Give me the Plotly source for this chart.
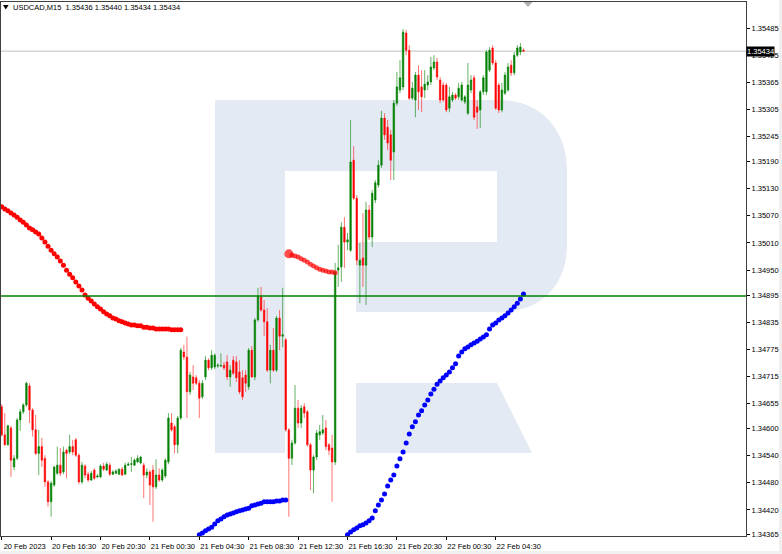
import plotly.graph_objects as go

# ---------------- data ----------------
symbol = "USDCAD,M15"
time_labels = ["20 Feb 2023", "20 Feb 16:30", "20 Feb 20:30", "21 Feb 00:30", "21 Feb 04:30",
               "21 Feb 08:30", "21 Feb 12:30", "21 Feb 16:30", "21 Feb 20:30", "22 Feb 00:30",
               "22 Feb 04:30"]
bars_per_label = 16
price_ticks = [1.35485, 1.35425, 1.35365, 1.35305, 1.35245, 1.35190, 1.35130, 1.35070, 1.35010,
               1.34950, 1.34895, 1.34835, 1.34775, 1.34715, 1.34655, 1.34600, 1.34540, 1.34480,
               1.34420, 1.34365]

opens = [
    1.34648, 1.34586, 1.34564, 1.34601, 1.34515, 1.34534, 1.34619, 1.34637, 1.34652, 1.34694,
    1.34641, 1.34597, 1.34545, 1.34560, 1.34534, 1.34482, 1.34438, 1.34475, 1.34501, 1.34519,
    1.34504, 1.34552, 1.34548, 1.34560, 1.34575, 1.34541, 1.34482, 1.34517, 1.34499, 1.34486,
    1.34508, 1.34493, 1.34493, 1.34517, 1.34508, 1.34519, 1.34499, 1.34501, 1.34499, 1.34510,
    1.34499, 1.34519, 1.34521, 1.34519, 1.34526, 1.34524, 1.34519, 1.34497, 1.34504, 1.34508,
    1.34471, 1.34497, 1.34486, 1.34495, 1.34526, 1.34612, 1.34604, 1.34564, 1.34623, 1.34769,
    1.34758, 1.34681, 1.34714, 1.34712, 1.34700, 1.34670, 1.34714, 1.34751, 1.34734, 1.34736,
    1.34738, 1.34738, 1.34740, 1.34747, 1.34714, 1.34751, 1.34747, 1.34725, 1.34712, 1.34718,
    1.34692, 1.34773, 1.34714, 1.34840, 1.34891, 1.34862, 1.34836, 1.34729, 1.34773, 1.34729,
    1.34844, 1.34804, 1.34796, 1.34597, 1.34534, 1.34568, 1.34645, 1.34612, 1.34648, 1.34637,
    1.34564, 1.34508, 1.34537, 1.34586, 1.34590, 1.34601, 1.34564, 1.34557, 1.34526, 1.34950,
    1.34957, 1.35045, 1.35012, 1.34994, 1.35193, 1.35109, 1.34961, 1.34977, 1.34961, 1.35083,
    1.35023, 1.35105, 1.35138, 1.35182, 1.35286, 1.35266, 1.35249, 1.35211, 1.35319, 1.35348,
    1.35355, 1.35474, 1.35436, 1.35330, 1.35326, 1.35381, 1.35355, 1.35348, 1.35359, 1.35366,
    1.35397, 1.35410, 1.35370, 1.35359, 1.35359, 1.35308, 1.35326, 1.35337, 1.35333, 1.35326,
    1.35322, 1.35297, 1.35348, 1.35375, 1.35311, 1.35304, 1.35344, 1.35344, 1.35392, 1.35441,
    1.35408, 1.35359, 1.35304, 1.35341, 1.35348, 1.35403, 1.35386, 1.35425, 1.35432, 1.35436,
]
highs = [
    1.34654, 1.34634, 1.34608, 1.34606, 1.34541, 1.34623, 1.34643, 1.34656, 1.34703, 1.34700,
    1.34645, 1.34630, 1.34597, 1.34579, 1.34541, 1.34486, 1.34484, 1.34517, 1.34560, 1.34557,
    1.34560, 1.34555, 1.34586, 1.34575, 1.34579, 1.34545, 1.34526, 1.34521, 1.34504, 1.34506,
    1.34512, 1.34499, 1.34521, 1.34524, 1.34526, 1.34524, 1.34508, 1.34510, 1.34512, 1.34515,
    1.34524, 1.34526, 1.34537, 1.34534, 1.34541, 1.34539, 1.34524, 1.34512, 1.34508, 1.34519,
    1.34532, 1.34512, 1.34512, 1.34534, 1.34634, 1.34634, 1.34608, 1.34628, 1.34778, 1.34785,
    1.34803, 1.34725, 1.34740, 1.34718, 1.34707, 1.34707, 1.34760, 1.34755, 1.34773, 1.34766,
    1.34744, 1.34766, 1.34747, 1.34762, 1.34740, 1.34760, 1.34760, 1.34751, 1.34729, 1.34729,
    1.34778, 1.34782, 1.34844, 1.34911, 1.34913, 1.34884, 1.34866, 1.34785, 1.34822, 1.34849,
    1.34862, 1.34911, 1.34800, 1.34601, 1.34575, 1.34696, 1.34663, 1.34652, 1.34656, 1.34641,
    1.34568, 1.34541, 1.34597, 1.34608, 1.34630, 1.34619, 1.34568, 1.34586, 1.34966, 1.35006,
    1.35056, 1.35067, 1.35032, 1.35282, 1.35224, 1.35116, 1.35010, 1.35076, 1.35101, 1.35094,
    1.35127, 1.35149, 1.35193, 1.35302, 1.35297, 1.35282, 1.35260, 1.35326, 1.35388, 1.35414,
    1.35483, 1.35481, 1.35447, 1.35366, 1.35388, 1.35403, 1.35392, 1.35392, 1.35381, 1.35421,
    1.35425, 1.35419, 1.35377, 1.35366, 1.35364, 1.35355, 1.35344, 1.35341, 1.35364, 1.35366,
    1.35337, 1.35408, 1.35381, 1.35381, 1.35326, 1.35348, 1.35381, 1.35436, 1.35443, 1.35447,
    1.35414, 1.35364, 1.35364, 1.35388, 1.35408, 1.35414, 1.35432, 1.35447, 1.35452, 1.35440,
]
lows = [
    1.34582, 1.34562, 1.34562, 1.34493, 1.34508, 1.34530, 1.34595, 1.34632, 1.34648, 1.34612,
    1.34582, 1.34541, 1.34497, 1.34515, 1.34471, 1.34427, 1.34405, 1.34471, 1.34497, 1.34495,
    1.34499, 1.34490, 1.34543, 1.34541, 1.34537, 1.34477, 1.34477, 1.34490, 1.34482, 1.34484,
    1.34486, 1.34490, 1.34490, 1.34506, 1.34506, 1.34495, 1.34497, 1.34499, 1.34497, 1.34495,
    1.34497, 1.34517, 1.34504, 1.34517, 1.34524, 1.34521, 1.34446, 1.34490, 1.34431, 1.34394,
    1.34466, 1.34482, 1.34482, 1.34490, 1.34521, 1.34593, 1.34545, 1.34545, 1.34619, 1.34751,
    1.34623, 1.34674, 1.34685, 1.34696, 1.34623, 1.34665, 1.34707, 1.34729, 1.34729, 1.34731,
    1.34734, 1.34736, 1.34729, 1.34707, 1.34692, 1.34718, 1.34703, 1.34676, 1.34663, 1.34681,
    1.34685, 1.34712, 1.34707, 1.34836, 1.34858, 1.34804, 1.34725, 1.34700, 1.34725, 1.34725,
    1.34773, 1.34780, 1.34593, 1.34405, 1.34519, 1.34564, 1.34601, 1.34601, 1.34623, 1.34560,
    1.34464, 1.34457, 1.34530, 1.34575, 1.34586, 1.34552, 1.34541, 1.34438, 1.34519, 1.34913,
    1.34924, 1.34955, 1.34994, 1.34990, 1.35105, 1.34961, 1.34877, 1.34913, 1.34873, 1.35017,
    1.35001, 1.35098, 1.35132, 1.35176, 1.35238, 1.35215, 1.35149, 1.35149, 1.35313, 1.35341,
    1.35348, 1.35425, 1.35326, 1.35326, 1.35288, 1.35304, 1.35299, 1.35330, 1.35348, 1.35359,
    1.35392, 1.35370, 1.35319, 1.35322, 1.35299, 1.35299, 1.35322, 1.35326, 1.35326, 1.35322,
    1.35317, 1.35293, 1.35341, 1.35282, 1.35262, 1.35264, 1.35337, 1.35337, 1.35388, 1.35403,
    1.35304, 1.35297, 1.35299, 1.35337, 1.35344, 1.35379, 1.35381, 1.35421, 1.35425, 1.35434,
]
closes = [
    1.34586, 1.34564, 1.34606, 1.34530, 1.34534, 1.34619, 1.34637, 1.34652, 1.34700, 1.34641,
    1.34597, 1.34545, 1.34560, 1.34530, 1.34482, 1.34438, 1.34479, 1.34515, 1.34519, 1.34501,
    1.34548, 1.34545, 1.34560, 1.34548, 1.34541, 1.34482, 1.34519, 1.34497, 1.34486, 1.34501,
    1.34490, 1.34495, 1.34517, 1.34510, 1.34521, 1.34499, 1.34504, 1.34506, 1.34510, 1.34497,
    1.34519, 1.34521, 1.34522, 1.34530, 1.34534, 1.34537, 1.34497, 1.34504, 1.34475, 1.34471,
    1.34497, 1.34486, 1.34508, 1.34530, 1.34623, 1.34597, 1.34564, 1.34623, 1.34773, 1.34758,
    1.34681, 1.34718, 1.34700, 1.34700, 1.34667, 1.34700, 1.34751, 1.34734, 1.34762, 1.34762,
    1.34740, 1.34739, 1.34734, 1.34714, 1.34729, 1.34722, 1.34712, 1.34681, 1.34670, 1.34700,
    1.34773, 1.34714, 1.34840, 1.34891, 1.34862, 1.34836, 1.34729, 1.34773, 1.34729, 1.34844,
    1.34804, 1.34807, 1.34597, 1.34534, 1.34568, 1.34645, 1.34612, 1.34645, 1.34634, 1.34564,
    1.34508, 1.34537, 1.34590, 1.34593, 1.34597, 1.34560, 1.34552, 1.34526, 1.34946, 1.34955,
    1.35045, 1.35012, 1.35017, 1.35189, 1.35109, 1.34972, 1.34972, 1.34961, 1.35083, 1.35023,
    1.35120, 1.35143, 1.35182, 1.35286, 1.35249, 1.35231, 1.35193, 1.35319, 1.35355, 1.35375,
    1.35476, 1.35436, 1.35330, 1.35352, 1.35381, 1.35344, 1.35333, 1.35361, 1.35366, 1.35399,
    1.35410, 1.35377, 1.35326, 1.35326, 1.35304, 1.35333, 1.35337, 1.35330, 1.35352, 1.35359,
    1.35333, 1.35359, 1.35370, 1.35288, 1.35299, 1.35344, 1.35375, 1.35432, 1.35436, 1.35408,
    1.35308, 1.35304, 1.35348, 1.35381, 1.35399, 1.35386, 1.35425, 1.35441, 1.35443, 1.35434,
]

# dotted indicator segments (start bar index + values)
red_a_start = 0
red_a = [1.35090, 1.35085, 1.35081, 1.35076, 1.35072, 1.35067, 1.35061, 1.35056, 1.35050, 1.35043,
         1.35039, 1.35034, 1.35030, 1.35021, 1.35012, 1.35003, 1.34994, 1.34986, 1.34979, 1.34970,
         1.34961, 1.34950, 1.34941, 1.34933, 1.34924, 1.34915, 1.34906, 1.34895, 1.34888, 1.34882,
         1.34875, 1.34869, 1.34864, 1.34858, 1.34853, 1.34849, 1.34844, 1.34842, 1.34838, 1.34836,
         1.34833, 1.34831, 1.34829, 1.34829, 1.34827, 1.34827, 1.34824, 1.34824, 1.34822, 1.34822,
         1.34820, 1.34820, 1.34820, 1.34820, 1.34820, 1.34818, 1.34818, 1.34818, 1.34818]
red_b_start = 93
red_b = [1.34986, 1.34983, 1.34981, 1.34979, 1.34975, 1.34972, 1.34968, 1.34963, 1.34959, 1.34955,
         1.34952, 1.34950, 1.34948, 1.34946, 1.34946, 1.34944]
blue_a_start = 64
blue_a = [1.34365, 1.34369, 1.34374, 1.34378, 1.34382, 1.34389, 1.34396, 1.34400, 1.34405, 1.34409,
          1.34411, 1.34413, 1.34416, 1.34418, 1.34420, 1.34422, 1.34424, 1.34429, 1.34431, 1.34433,
          1.34435, 1.34438, 1.34438, 1.34438, 1.34438, 1.34440, 1.34440, 1.34442, 1.34442]
blue_b_start = 112
blue_b = [1.34365, 1.34371, 1.34376, 1.34380, 1.34385, 1.34387, 1.34391, 1.34396, 1.34402, 1.34418,
          1.34431, 1.34442, 1.34455, 1.34473, 1.34486, 1.34497, 1.34517, 1.34533, 1.34548, 1.34568,
          1.34588, 1.34604, 1.34615, 1.34630, 1.34639, 1.34652, 1.34663, 1.34676, 1.34687, 1.34698,
          1.34705, 1.34712, 1.34718, 1.34725, 1.34734, 1.34743, 1.34760, 1.34769, 1.34776, 1.34780,
          1.34785, 1.34789, 1.34793, 1.34798, 1.34802, 1.34807, 1.34820, 1.34829, 1.34833, 1.34840,
          1.34844, 1.34849, 1.34855, 1.34862, 1.34869, 1.34877, 1.34886, 1.34897]
level_line = 1.34893
bid_price = closes[-1]

# ---------------- layout helpers (pixels -> paper) ----------------
W, H = 782, 554
PL, PR, PT, PB = 1, 746, 2, 536


def px(x):
    return (x - PL) / (PR - PL)


def py(y):
    return (PB - y) / (PB - PT)


def P(x, y):
    return f"{px(x):.5f},{py(y):.5f}"


FONT = "Liberation Sans, Arial, sans-serif"
bars = list(range(len(opens)))

fig = go.Figure()
fig.add_trace(go.Candlestick(
    x=bars, open=opens, high=highs, low=lows, close=closes,
    increasing=dict(line=dict(color="rgba(0,128,0,0.6)", width=1), fillcolor="#008000"),
    decreasing=dict(line=dict(color="rgba(255,0,0,0.55)", width=1), fillcolor="#ff0000"),
    hoverinfo="skip", showlegend=False))


def dots(start, vals, color, sizes=None):
    return go.Scatter(x=list(range(start, start + len(vals))), y=vals, mode="markers",
                      marker=dict(color=color, size=sizes if sizes else 5, line=dict(width=0)),
                      hoverinfo="skip", showlegend=False)


fig.add_trace(dots(red_a_start, red_a, "#ff0000"))
fig.add_trace(dots(red_b_start, red_b, "#ff0000", [9] + [5] * (len(red_b) - 1)))
fig.add_trace(dots(blue_a_start, blue_a, "#0000ff"))
fig.add_trace(dots(blue_b_start, blue_b, "#0000ff"))

wm = "rgb(228,234,243)"
path_r = (f"M{P(215,100)} L{P(500,100)} C{P(541,100)} {P(567,130)} {P(567,170)} "
          f"L{P(567,245)} C{P(567,285)} {P(541,312)} {P(500,312)} L{P(356,312)} "
          f"L{P(356,242)} L{P(497,242)} L{P(497,171)} L{P(285,171)} L{P(285,453)} "
          f"L{P(215,453)} Z")
path_leg = f"M{P(356,383)} L{P(497,383)} L{P(532,453)} L{P(356,453)} Z"

shapes = [
    dict(type="path", path=path_r, xref="paper", yref="paper", fillcolor=wm,
         line=dict(width=0), layer="below"),
    dict(type="path", path=path_leg, xref="paper", yref="paper", fillcolor=wm,
         line=dict(width=0), layer="below"),
    dict(type="line", xref="paper", x0=0, x1=1, yref="y", y0=bid_price, y1=bid_price,
         line=dict(color="#c0c0c0", width=1), layer="below"),
    dict(type="line", xref="paper", x0=0, x1=1, yref="y", y0=level_line, y1=level_line,
         line=dict(color="#008000", width=1.5), layer="above"),
    # title triangle
    dict(type="path", path=f"M{P(3,5)} L{P(8.6,5)} L{P(5.8,9.5)} Z", xref="paper",
         yref="paper", fillcolor="black", line=dict(width=0)),
    # chart-shift marker
    dict(type="path", path=f"M{P(523.5,2)} L{P(532.5,2)} L{P(528,7)} Z", xref="paper",
         yref="paper", fillcolor="#b0b0b0", line=dict(width=0)),
    # window frame strips
    dict(type="rect", xref="paper", yref="paper", x0=px(779), x1=px(782), y0=py(554), y1=py(0),
         fillcolor="#f0f0f0", line=dict(width=0)),
    dict(type="rect", xref="paper", yref="paper", x0=px(0), x1=px(782), y0=py(554), y1=py(551),
         fillcolor="#f0f0f0", line=dict(width=0)),
]

o, h, l, c = opens[-1], highs[-1], lows[-1], closes[-1]
annotations = [
    dict(text=f"{symbol}\u00a0\u00a0{o:.5f} {h:.5f} {l:.5f} {c:.5f}", xref="paper", yref="paper",
         x=px(11), y=py(7.5), xanchor="left", yanchor="middle", showarrow=False,
         font=dict(family=FONT, size=7.5, color="black")),
    dict(text=f"{bid_price:.5f}", xref="paper", yref="y", x=1, y=bid_price, xanchor="left",
         yanchor="middle", showarrow=False, bgcolor="black", borderpad=0,
         font=dict(family=FONT, size=7.5, color="white")),
]

fig.update_layout(
    width=W, height=H,
    margin=dict(l=PL, r=W - PR, t=PT, b=H - PB),
    paper_bgcolor="white", plot_bgcolor="white", showlegend=False,
    font=dict(family=FONT, size=7.5, color="black"),
    shapes=shapes, annotations=annotations,
    xaxis=dict(range=[(PL - 1.7) / 3.0875, (PR - 1.7) / 3.0875],
               tickvals=[i * bars_per_label for i in range(len(time_labels))],
               ticktext=time_labels, ticks="outside", ticklen=3, tickcolor="black",
               ticklabelshift=23, showgrid=False, zeroline=False, showline=True,
               linecolor="#404040", linewidth=1, mirror=True,
               rangeslider=dict(visible=False), tickfont=dict(family=FONT, size=7.5)),
    yaxis=dict(side="right", range=[1.343624, 1.355426], tickvals=price_ticks,
               ticktext=[f"{v:.5f}" for v in price_ticks], ticks="outside", ticklen=3,
               tickcolor="black", showgrid=False, zeroline=False, showline=True,
               linecolor="#404040", linewidth=1, mirror=True,
               tickfont=dict(family=FONT, size=7.5)),
)

fig.write_html("out.html", config={"displayModeBar": False},
               post_script="document.body.style.margin='0';")
